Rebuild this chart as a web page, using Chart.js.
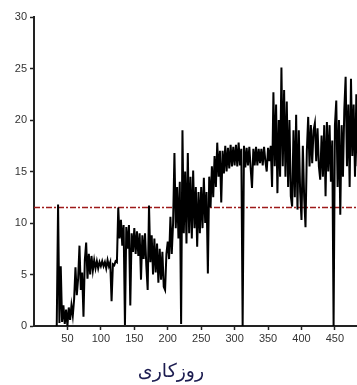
<!DOCTYPE html>
<html>
<head>
<meta charset="utf-8">
<script src="https://cdn.jsdelivr.net/npm/chart.js@4.4.1/dist/chart.umd.min.js"></script>
<style>
  html, body { margin: 0; padding: 0; background: #fff; overflow: hidden; }
  #wrap { width: 357px; height: 385px; }
</style>
</head>
<body>
<div id="wrap"><canvas id="myChart" width="357" height="385"></canvas></div>
<script>
// day numbers run from FIRST_DAY in steps of DAY_STEP
var FIRST_DAY = 34;
var DAY_STEP = 2;
var values = [
  0, 11.8, 0.3, 5.8, 0.4, 2.0, 0.2, 1.6, 0.0, 1.8,
  0.6, 2.0, 1.0, 2.6, 5.7, 3.0, 4.6, 7.8, 3.5, 5.2,
  0.9, 6.4, 8.1, 4.6, 7.0, 5.0, 6.8, 5.4, 6.4, 5.6,
  6.3, 5.6, 6.2, 5.8, 6.3, 5.8, 6.2, 5.6, 6.4, 5.8,
  6.2, 2.4, 6.0, 5.9, 6.3, 6.2, 11.5, 8.5, 10.3, 7.8,
  9.8, 0.1, 9.6, 7.5, 9.8, 2.0, 9.0, 7.2, 9.5, 7.0,
  9.2, 6.8, 9.0, 4.5, 8.8, 6.5, 9.0, 5.8, 3.5, 11.7,
  6.2, 8.8, 5.0, 8.5, 5.2, 8.0, 4.2, 7.5, 4.5, 7.2,
  3.8, 3.5, 7.0, 8.2, 6.5, 10.6, 7.0, 10.0, 16.8, 9.5,
  13.5, 8.5, 14.0, 0.2, 19.0, 9.0, 15.0, 8.0, 16.8, 9.0,
  14.5, 8.5, 15.1, 9.5, 13.5, 7.7, 13.0, 9.0, 13.5, 9.5,
  14.4, 10.0, 13.0, 5.1, 14.5, 11.5, 15.5, 12.5, 16.5, 13.5,
  17.8, 14.5, 17.0, 12.0, 17.0, 14.8, 17.5, 15.0, 17.3, 15.3,
  17.6, 15.5, 17.4, 15.6, 17.6, 15.5, 17.8, 15.6, 17.2, 0.0,
  17.5, 15.4, 17.3, 15.6, 17.4, 15.3, 13.4, 17.2, 15.6, 17.4,
  15.6, 17.2, 15.8, 17.2, 15.6, 17.4, 16.0, 15.0, 17.3, 16.0,
  17.5, 13.5, 22.7, 15.5, 21.5, 12.9, 20.0, 14.5, 25.1, 15.5,
  22.9, 14.5, 21.8, 13.5, 20.0, 12.6, 11.6, 19.0, 12.5, 20.5,
  11.3, 19.0, 13.0, 10.3, 17.5, 12.5, 9.6, 17.0, 20.3, 15.5,
  19.5, 15.8, 19.0, 19.7, 16.0, 19.2, 15.5, 14.2, 18.5, 14.5,
  19.5, 12.6, 19.8, 15.0, 19.5, 14.0, 18.0, 0.0, 19.5, 21.9,
  13.5, 20.0, 10.8, 19.5, 14.5, 21.0, 24.2, 15.5, 21.5, 13.5,
  24.0, 16.5, 21.5, 14.5, 22.5, 15.5
];
var THRESHOLD = 11.5;
var X_MIN = 0, X_MAX = 483;
var Y_MIN = 0, Y_MAX = 30;
var X_STEP = 50, Y_STEP = 5;
var xTitle = 'روزکاری';

var points = values.map(function(v, i) {
  return { x: FIRST_DAY + i * DAY_STEP, y: v };
});
var limitLine = [{ x: X_MIN, y: THRESHOLD }, { x: X_MAX, y: THRESHOLD }];

var titlePlugin = {
  id: 'bottomTitle',
  afterDraw: function(chart) {
    var c = chart.ctx;
    var a = chart.chartArea;
    c.save();
    c.font = '19px "DejaVu Sans"';
    c.fillStyle = '#1c1c50';
    c.textAlign = 'center';
    c.textBaseline = 'middle';
    c.fillText(xTitle, a.left + 137, chart.height - 13);
    c.restore();
  }
};

window.onload = function() {
  var ctx = document.getElementById('myChart').getContext('2d');
  var myChart = new Chart(ctx, {
    type: 'line',
    data: {
      datasets: [{
        data: points,
        borderColor: '#000',
        borderWidth: 2,
        pointRadius: 0,
        tension: 0
      }, {
        data: limitLine,
        borderColor: '#9e1a1a',
        borderWidth: 1.4,
        borderDash: [6, 2, 2, 2],
        pointRadius: 0
      }]
    },
    plugins: [titlePlugin],
    options: {
      responsive: false,
      animation: false,
      layout: { padding: { top: 17, left: 0, right: 0, bottom: 0 } },
      plugins: { legend: { display: false }, tooltip: { enabled: false } },
      scales: {
        x: {
          type: 'linear',
          min: X_MIN,
          max: X_MAX,
          border: { color: '#222', width: 2 },
          grid: { drawOnChartArea: false, drawTicks: true, tickLength: 4, tickColor: '#222', tickWidth: 1.5 },
          ticks: { stepSize: X_STEP, includeBounds: false, autoSkip: false, color: '#333', font: { family: 'Liberation Sans', size: 11 }, padding: 2, maxRotation: 0 },
          afterBuildTicks: function(scale) {
            scale.ticks = scale.ticks.filter(function(t) { return t.value > 0 && t.value % X_STEP === 0; });
          },
          afterFit: function(scale) { scale.height = 59; }
        },
        y: {
          min: Y_MIN,
          max: Y_MAX,
          border: { color: '#222', width: 2 },
          grid: { drawOnChartArea: false, drawTicks: true, tickLength: 4, tickColor: '#222', tickWidth: 1.5 },
          ticks: { stepSize: Y_STEP, color: '#333', font: { family: 'Liberation Sans', size: 11 }, padding: 3 },
          afterFit: function(scale) { scale.width = 34; }
        }
      }
    }
  });
};
</script>
</body>
</html>
